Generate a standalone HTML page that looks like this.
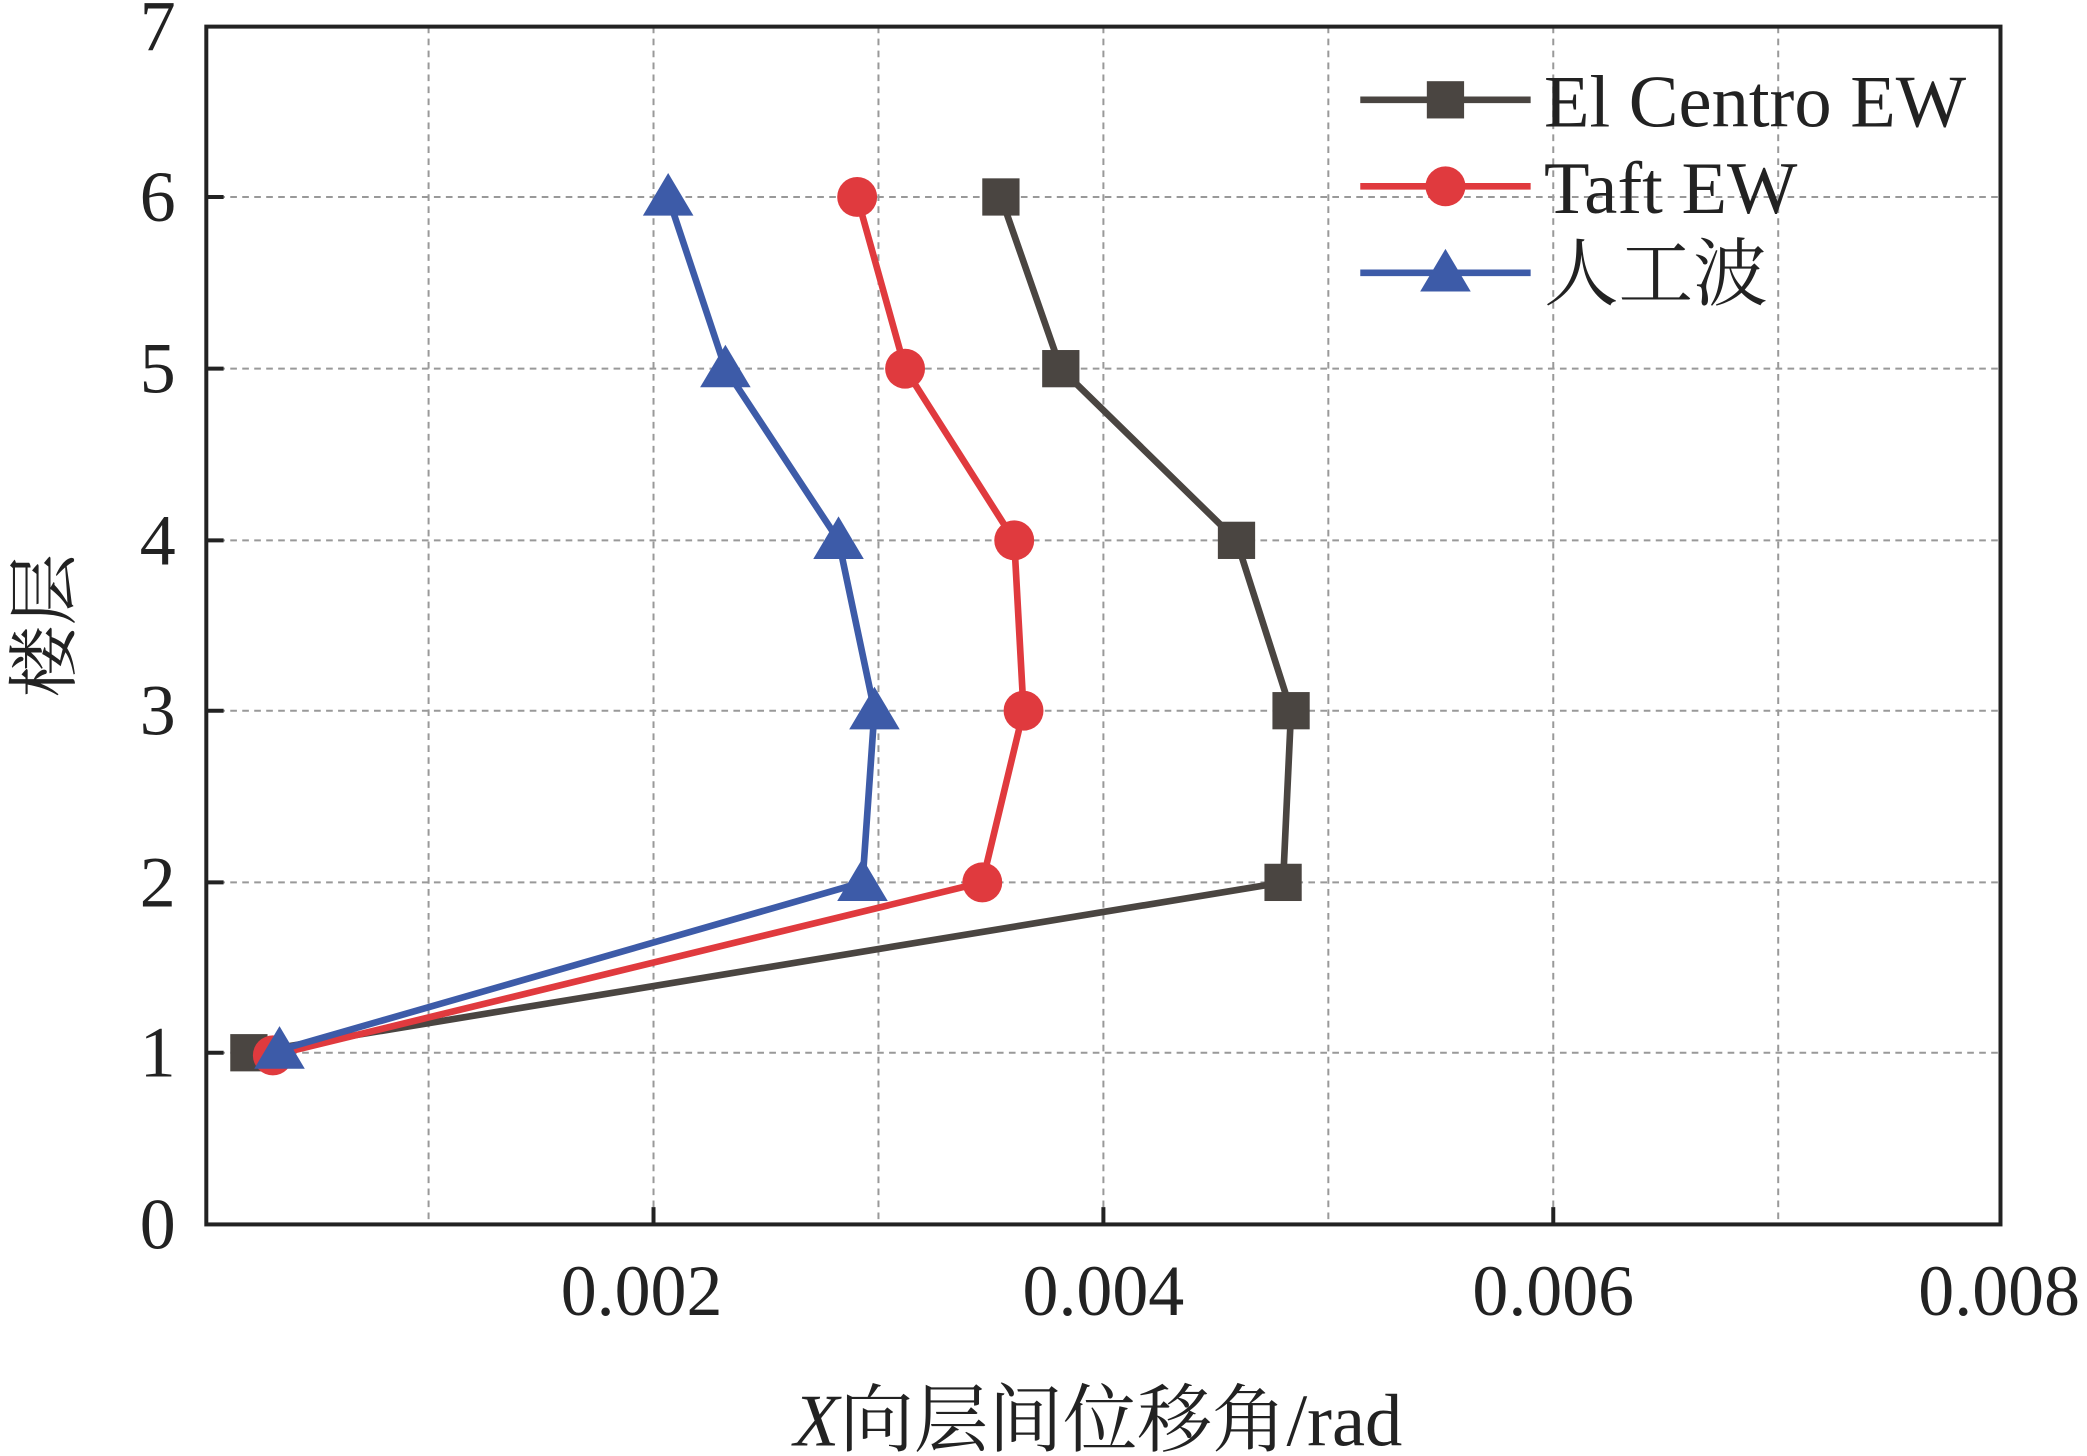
<!DOCTYPE html>
<html><head><meta charset="utf-8"><style>
html,body{margin:0;padding:0;background:#fff;}
svg{display:block;}
text{font-family:"Liberation Serif","Noto Serif CJK SC",serif;fill:#222;}
</style></head><body>
<svg width="2087" height="1456" viewBox="0 0 1568 1094" preserveAspectRatio="none" xmlns="http://www.w3.org/2000/svg">
<rect width="1568" height="1094" fill="#fff"/>
<g stroke="#999" stroke-width="1.5" stroke-dasharray="5,4" fill="none">
<line x1="322" y1="20" x2="322" y2="920"/>
<line x1="491" y1="20" x2="491" y2="920"/>
<line x1="660" y1="20" x2="660" y2="920"/>
<line x1="829" y1="20" x2="829" y2="920"/>
<line x1="998" y1="20" x2="998" y2="920"/>
<line x1="1167" y1="20" x2="1167" y2="920"/>
<line x1="1336" y1="20" x2="1336" y2="920"/>
<line x1="155" y1="148" x2="1503" y2="148"/>
<line x1="155" y1="277" x2="1503" y2="277"/>
<line x1="155" y1="406" x2="1503" y2="406"/>
<line x1="155" y1="534" x2="1503" y2="534"/>
<line x1="155" y1="663" x2="1503" y2="663"/>
<line x1="155" y1="791" x2="1503" y2="791"/>
</g>
<rect x="155" y="20" width="1348" height="900" fill="none" stroke="#222" stroke-width="3"/>
<g stroke="#222" stroke-width="3">
<line x1="155" y1="148" x2="168" y2="148"/><line x1="155" y1="277" x2="168" y2="277"/>
<line x1="155" y1="406" x2="168" y2="406"/><line x1="155" y1="534" x2="168" y2="534"/>
<line x1="155" y1="663" x2="168" y2="663"/><line x1="155" y1="791" x2="168" y2="791"/>
<line x1="491" y1="920" x2="491" y2="907"/><line x1="829" y1="920" x2="829" y2="907"/>
<line x1="1167" y1="920" x2="1167" y2="907"/>
</g>
<g font-size="54" text-anchor="end">
<text x="132" y="938">0</text><text x="132" y="809">1</text><text x="132" y="681">2</text>
<text x="132" y="552">3</text><text x="132" y="424">4</text><text x="132" y="295">5</text>
<text x="132" y="166">6</text><text x="132" y="38">7</text>
</g>
<g font-size="54" text-anchor="middle">
<text x="482" y="988">0.002</text><text x="829" y="988">0.004</text>
<text x="1167" y="988">0.006</text><text x="1502" y="988">0.008</text>
<text x="825" y="1086" font-size="56"><tspan font-style="italic">X</tspan>向层间位移角/rad</text>
</g>
<text font-size="54" text-anchor="middle" transform="translate(52,470) rotate(-90)">楼层</text>
<polyline points="187,791 964,663 970,534 929,406 797,277 752,148" fill="none" stroke="#4a4541" stroke-width="5"/>
<g fill="#4a4541">
<rect x="173" y="777" width="28" height="28"/><rect x="950" y="649" width="28" height="28"/>
<rect x="956" y="520" width="28" height="28"/><rect x="915" y="392" width="28" height="28"/>
<rect x="783" y="263" width="28" height="28"/><rect x="738" y="134" width="28" height="28"/>
</g>
<polyline points="205,793 738,663 769,534 762,406 680,277 644,148" fill="none" stroke="#e03a3e" stroke-width="5"/>
<g fill="#e03a3e">
<circle cx="205" cy="793" r="15"/><circle cx="738" cy="663" r="15"/><circle cx="769" cy="534" r="15"/>
<circle cx="762" cy="406" r="15"/><circle cx="680" cy="277" r="15"/><circle cx="644" cy="148" r="15"/>
</g>
<polyline points="210,789 648,663 657,534 630,406 545,277 502,148" fill="none" stroke="#3d5ba8" stroke-width="5"/>
<g fill="#3d5ba8">
<polygon points="210,771 229,803 191,803"/><polygon points="648,645 667,677 629,677"/>
<polygon points="657,516 676,548 638,548"/><polygon points="630,388 649,420 611,420"/>
<polygon points="545,259 564,291 526,291"/><polygon points="502,130 521,162 483,162"/>
</g>
<line x1="1022" y1="75" x2="1150" y2="75" stroke="#4a4541" stroke-width="5"/>
<rect x="1072" y="61" width="28" height="28" fill="#4a4541"/>
<line x1="1022" y1="140" x2="1150" y2="140" stroke="#e03a3e" stroke-width="5"/>
<circle cx="1086" cy="140" r="15" fill="#e03a3e"/>
<line x1="1022" y1="205" x2="1150" y2="205" stroke="#3d5ba8" stroke-width="5"/>
<polygon points="1086,187 1105,219 1067,219" fill="#3d5ba8"/>
<g font-size="56">
<text x="1160" y="95">El Centro EW</text>
<text x="1160" y="160">Taft EW</text>
<text x="1160" y="225">人工波</text>
</g>
</svg>
</body></html>
